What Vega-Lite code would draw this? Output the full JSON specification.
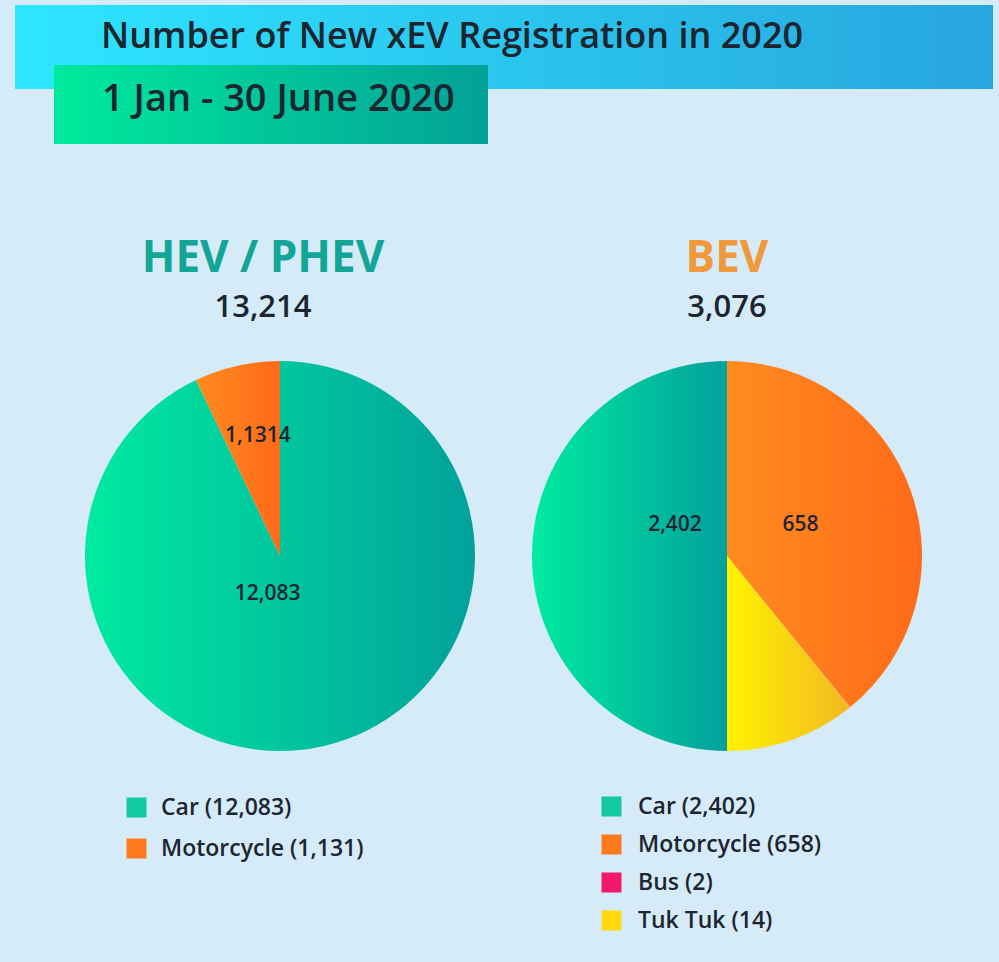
{
  "$schema": "https://vega.github.io/schema/vega-lite/v6.json",
  "background": "#d5ecf8",
  "padding": {"left": 0, "top": 0, "right": 0, "bottom": 30},
  "config": {"view": {"stroke": null}, "font": "Open Sans"},
  "spacing": 93,
  "resolve": {"scale": {"x": "independent", "y": "independent"}},
  "vconcat": [
    {
      "width": 999,
      "height": 144,
      "data": {"values": [{"title": "Number of New xEV Registration in 2020", "period": "1 Jan - 30 June 2020"}]},
      "layer": [
        {
          "mark": {"type": "rect", "fill": {"gradient": "linear", "x1": 0, "y1": 0, "x2": 1, "y2": 0, "stops": [{"offset": 0, "color": "#2ee6ff"}, {"offset": 1, "color": "#27a6de"}]}},
          "encoding": {
            "x": {"datum": 15, "type": "quantitative", "scale": {"domain": [0, 999], "nice": false, "zero": false}, "axis": null},
            "x2": {"datum": 993},
            "y": {"datum": 5, "type": "quantitative", "scale": {"domain": [0, 144], "nice": false, "zero": false, "reverse": true}, "axis": null},
            "y2": {"datum": 89}
          }
        },
        {
          "mark": {"type": "rect", "fill": {"gradient": "linear", "x1": 0, "y1": 0, "x2": 1, "y2": 0, "stops": [{"offset": 0, "color": "#00ea9c"}, {"offset": 1, "color": "#03a197"}]}},
          "encoding": {
            "x": {"datum": 54, "type": "quantitative"},
            "x2": {"datum": 488},
            "y": {"datum": 65, "type": "quantitative"},
            "y2": {"datum": 144}
          }
        },
        {
          "mark": {"type": "text", "align": "left", "baseline": "middle", "fontSize": 36, "fontWeight": 600, "color": "#1c2530"},
          "encoding": {
            "x": {"datum": 101, "type": "quantitative"},
            "y": {"datum": 37, "type": "quantitative"},
            "text": {"field": "title"}
          }
        },
        {
          "mark": {"type": "text", "align": "left", "baseline": "middle", "fontSize": 38, "fontWeight": 600, "color": "#1c2530"},
          "encoding": {
            "x": {"datum": 102, "type": "quantitative"},
            "y": {"datum": 100, "type": "quantitative"},
            "text": {"field": "period"}
          }
        }
      ]
    },
    {
      "spacing": 0,
      "bounds": "flush",
      "resolve": {"scale": {"fill": "independent", "theta": "independent"}, "legend": {"fill": "independent"}},
      "hconcat": [
        {
          "width": 560,
          "height": 390,
          "title": {"text": "HEV / PHEV", "subtitle": "13,214", "color": "#13a597", "fontSize": 44, "fontWeight": "bold", "subtitleFontSize": 31, "subtitleFontWeight": 600, "subtitleColor": "#1c2530", "subtitlePadding": 12, "anchor": "middle", "dx": -17, "offset": 38},
          "data": {"values": [
            {"category": "Car", "count": 12083, "share": 92.9, "order": 1, "label": "12,083", "legend": "Car (12,083)"},
            {"category": "Motorcycle", "count": 1131, "share": 7.1, "order": 2, "label": "1,1314", "legend": "Motorcycle (1,131)"}
          ]},
          "encoding": {
            "theta": {"field": "share", "type": "quantitative", "stack": true},
            "order": {"field": "order", "type": "quantitative"}
          },
          "layer": [
            {
              "mark": {"type": "arc", "outerRadius": 195},
              "encoding": {
                "fill": {
                  "condition": [
                    {"test": "datum.category === 'Motorcycle'", "value": {"gradient": "linear", "x1": 0, "y1": 0, "x2": 1, "y2": 0, "stops": [{"offset": 0, "color": "#ff8c1f"}, {"offset": 1, "color": "#ff6a19"}]}}
                  ],
                  "value": {"gradient": "linear", "x1": 0, "y1": 0, "x2": 1, "y2": 0, "stops": [{"offset": 0, "color": "#00eba0"}, {"offset": 1, "color": "#02a19a"}]}
                }
              }
            },
            {
              "mark": {"type": "arc", "outerRadius": 195, "opacity": 0},
              "encoding": {
                "fill": {
                  "field": "legend", "type": "nominal",
                  "scale": {"domain": ["Car (12,083)", "Motorcycle (1,131)"], "range": ["#12c9a0", "#ff7a1e"]},
                  "legend": {"title": null, "orient": "none", "legendX": 125, "legendY": 435, "direction": "vertical", "symbolType": "square", "symbolSize": 400, "symbolStrokeWidth": 0, "symbolOpacity": 1, "labelFontSize": 23, "labelFont": "Open Sans", "labelFontWeight": 600, "labelColor": "#1c2530", "labelOffset": 13, "labelLimit": 400, "rowPadding": 17, "padding": 0}
                }
              }
            },
            {
              "mark": {"type": "text", "radius": 39, "dx": -21, "fontSize": 21, "fontWeight": 600, "color": "#1c2530"},
              "encoding": {"text": {"condition": {"test": "datum.category === 'Car'", "field": "label"}, "value": ""}}
            },
            {
              "mark": {"type": "text", "radius": 123, "dx": 5, "fontSize": 21, "fontWeight": 600, "color": "#1c2530"},
              "encoding": {"text": {"condition": {"test": "datum.category === 'Motorcycle'", "field": "label"}, "value": ""}}
            }
          ]
        },
        {
          "width": 334,
          "height": 390,
          "title": {"text": "BEV", "subtitle": "3,076", "color": "#f0993a", "fontSize": 44, "fontWeight": "bold", "subtitleFontSize": 31, "subtitleFontWeight": 600, "subtitleColor": "#1c2530", "subtitlePadding": 12, "anchor": "middle", "offset": 38},
          "data": {"values": [
            {"category": "Motorcycle", "count": 658, "share": 39.1, "order": 1, "label": "658", "legend": "Motorcycle (658)"},
            {"category": "Bus", "count": 2, "share": 0.02, "order": 2, "label": "2", "legend": "Bus (2)"},
            {"category": "Tuk Tuk", "count": 14, "share": 10.88, "order": 3, "label": "14", "legend": "Tuk Tuk (14)"},
            {"category": "Car", "count": 2402, "share": 50, "order": 4, "label": "2,402", "legend": "Car (2,402)"}
          ]},
          "encoding": {
            "theta": {"field": "share", "type": "quantitative", "stack": true},
            "order": {"field": "order", "type": "quantitative"}
          },
          "layer": [
            {
              "mark": {"type": "arc", "outerRadius": 195},
              "encoding": {
                "fill": {
                  "condition": [
                    {"test": "datum.category === 'Motorcycle'", "value": {"gradient": "linear", "x1": 0, "y1": 0, "x2": 1, "y2": 0, "stops": [{"offset": 0, "color": "#ff8c1f"}, {"offset": 1, "color": "#ff6a19"}]}},
                    {"test": "datum.category === 'Tuk Tuk'", "value": {"gradient": "linear", "x1": 0, "y1": 0, "x2": 1, "y2": 0, "stops": [{"offset": 0, "color": "#fff200"}, {"offset": 1, "color": "#f2b822"}]}},
                    {"test": "datum.category === 'Bus'", "value": "#f4186c"}
                  ],
                  "value": {"gradient": "linear", "x1": 0, "y1": 0, "x2": 1, "y2": 0, "stops": [{"offset": 0, "color": "#00eba0"}, {"offset": 1, "color": "#03a09c"}]}
                }
              }
            },
            {
              "mark": {"type": "arc", "outerRadius": 195, "opacity": 0},
              "encoding": {
                "fill": {
                  "field": "legend", "type": "nominal",
                  "scale": {"domain": ["Car (2,402)", "Motorcycle (658)", "Bus (2)", "Tuk Tuk (14)"], "range": ["#12c9a0", "#ff7a1e", "#f4186c", "#ffd80e"]},
                  "legend": {"title": null, "orient": "none", "legendX": 40, "legendY": 434, "direction": "vertical", "symbolType": "square", "symbolSize": 400, "symbolStrokeWidth": 0, "symbolOpacity": 1, "labelFontSize": 23, "labelFont": "Open Sans", "labelFontWeight": 600, "labelColor": "#1c2530", "labelOffset": 15, "labelLimit": 400, "rowPadding": 14, "padding": 0}
                }
              }
            },
            {
              "mark": {"type": "text", "radius": 52, "dy": -31, "fontSize": 21, "fontWeight": 600, "color": "#1c2530"},
              "encoding": {"text": {"condition": {"test": "datum.category === 'Car'", "field": "label"}, "value": ""}}
            },
            {
              "mark": {"type": "text", "radius": 78, "dy": -5, "fontSize": 21, "fontWeight": 600, "color": "#1c2530"},
              "encoding": {"text": {"condition": {"test": "datum.category === 'Motorcycle'", "field": "label"}, "value": ""}}
            }
          ]
        }
      ]
    }
  ]
}
